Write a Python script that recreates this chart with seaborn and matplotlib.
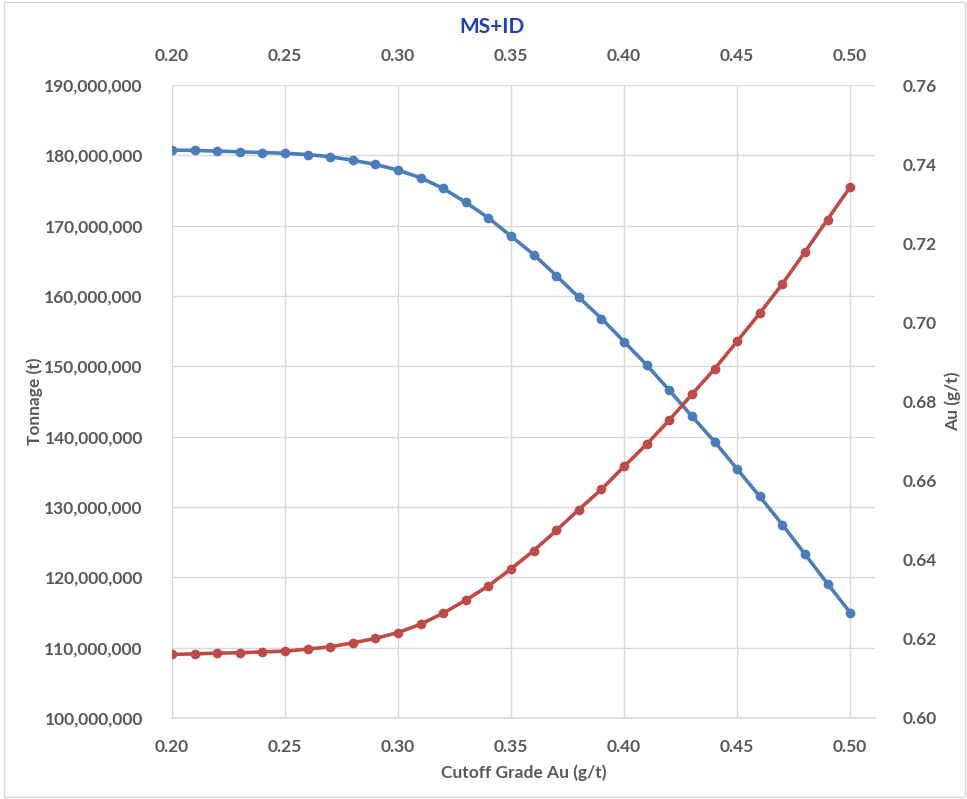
import matplotlib
matplotlib.use("Agg")
import matplotlib.pyplot as plt
import matplotlib.ticker as mticker
from matplotlib.patches import Rectangle
import seaborn as sns
import pandas as pd

# ---- data ----
cutoff = [0.20, 0.21, 0.22, 0.23, 0.24, 0.25, 0.26, 0.27, 0.28, 0.29, 0.30,
          0.31, 0.32, 0.33, 0.34, 0.35, 0.36, 0.37, 0.38, 0.39, 0.40,
          0.41, 0.42, 0.43, 0.44, 0.45, 0.46, 0.47, 0.48, 0.49, 0.50]
tonnage = [180.75e6, 180.7e6, 180.6e6, 180.5e6, 180.4e6, 180.3e6, 180.1e6, 179.8e6,
           179.3e6, 178.7e6, 177.9e6, 176.8e6, 175.3e6, 173.3e6, 171.1e6, 168.5e6,
           165.9e6, 162.9e6, 159.8e6, 156.8e6, 153.5e6, 150.2e6, 146.6e6, 142.9e6,
           139.3e6, 135.4e6, 131.5e6, 127.5e6, 123.3e6, 119.1e6, 115.0e6]
grade = [0.6161, 0.6162, 0.6164, 0.6165, 0.6167, 0.6169, 0.6174, 0.6180, 0.6190,
         0.6201, 0.6216, 0.6237, 0.6265, 0.6298, 0.6334, 0.6377, 0.6423, 0.6474,
         0.6527, 0.6578, 0.6636, 0.6692, 0.6753, 0.6818, 0.6882, 0.6952, 0.7023,
         0.7097, 0.7178, 0.7260, 0.7342]
x_ticks = [0.20, 0.25, 0.30, 0.35, 0.40, 0.45, 0.50]
title = "MS+ID"
x_label = "Cutoff Grade Au (g/t)"
y_label_left = "Tonnage (t)"
y_label_right = "Au (g/t)"

df = pd.DataFrame({"cutoff": cutoff, "tonnage": tonnage, "grade": grade})

sns.set_theme(style="white")
plt.rcParams['font.family'] = ['Lato', 'DejaVu Sans']

BLUE = "#4A7EBB"
RED = "#BE4B48"
GRID = "#D9D9D9"
TXT = "#595959"
FS = 12.5

fig = plt.figure(figsize=(9.67, 7.99), dpi=100)
ax = fig.add_axes([172/967, 1-718/799, (875-172)/967, (718-85)/799])
ax2 = ax.twinx()

sns.lineplot(data=df, x="cutoff", y="tonnage", ax=ax, color=BLUE, linewidth=2.6,
             marker="o", markersize=7, markeredgewidth=0)
sns.lineplot(data=df, x="cutoff", y="grade", ax=ax2, color=RED, linewidth=2.6,
             marker="o", markersize=7, markeredgewidth=0)

ax.set_xlim(0.20, 0.511)
ax.set_ylim(100e6, 190e6)
ax2.set_ylim(0.60, 0.76)
ax.set_xticks(x_ticks)
ax.set_yticks([100e6 + i*10e6 for i in range(10)])
ax2.set_yticks([0.60 + i*0.02 for i in range(9)])
ax.xaxis.set_major_formatter(mticker.FormatStrFormatter('%.2f'))
ax.yaxis.set_major_formatter(mticker.FuncFormatter(lambda v, p: f"{v:,.0f}"))
ax2.yaxis.set_major_formatter(mticker.FormatStrFormatter('%.2f'))

ax.grid(True, color=GRID, linewidth=1.0)
ax.set_axisbelow(True)
for a in (ax, ax2):
    for s in a.spines.values():
        s.set_visible(False)
ax.spines['bottom'].set_visible(True)
ax.spines['bottom'].set_color(GRID)

ax.tick_params(axis='x', which='both', length=0, labeltop=True, top=False,
               labelsize=FS, labelcolor=TXT, pad=15)
ax.tick_params(axis='y', length=0, labelsize=FS, labelcolor=TXT, pad=21)
ax2.tick_params(axis='y', length=0, labelsize=FS, labelcolor=TXT, pad=20)
for lab in ax.get_xticklabels() + ax.get_yticklabels() + ax2.get_yticklabels():
    lab.set_fontweight('bold')
for t in ax.xaxis.get_major_ticks():
    t.label2.set_fontweight('bold')

ax.set_xlabel(x_label, fontsize=FS, fontweight='bold', color=TXT)
ax.set_ylabel(y_label_left, fontsize=FS, fontweight='bold', color=TXT)
ax2.set_ylabel(y_label_right, fontsize=FS, fontweight='bold', color=TXT)
ax.xaxis.set_label_coords(0.5, (718-764)/633)
ax.yaxis.set_label_coords((43-172)/703, 0.5)
ax2.yaxis.set_label_coords((945-172)/703, 0.5)

fig.text(492/967, 1-27/799, title, ha='center', va='center', fontsize=15,
         fontweight='bold', color='#1F3FBF')

fig.patches.append(Rectangle((0.004, 0.002), 0.994, 0.996, transform=fig.transFigure,
                             fill=False, edgecolor='#D9D9D9', linewidth=1))

fig.savefig("out.png", dpi=100)
